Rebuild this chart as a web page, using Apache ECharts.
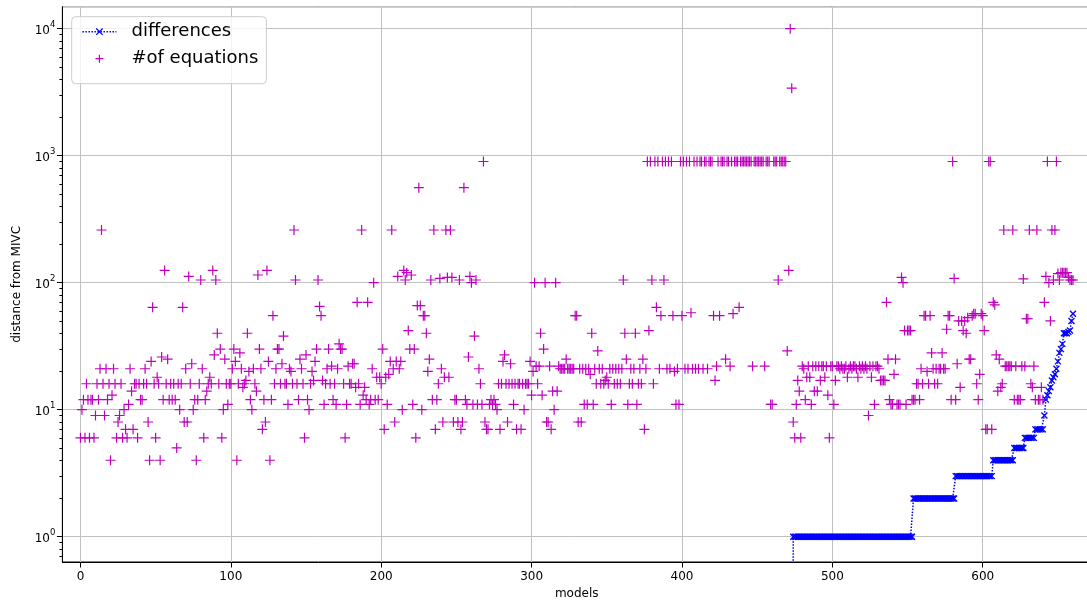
<!DOCTYPE html>
<html>
<head>
<meta charset="utf-8">
<title>distance from MIVC</title>
<script src="https://cdn.jsdelivr.net/npm/echarts@6/dist/echarts.min.js"></script>
<style>
  html, body { margin: 0; padding: 0; background: #ffffff; }
  #chart { width: 1087px; height: 603px; }
</style>
</head>
<body>
<div id="chart"></div>
<script>
// number of equations for every model, index = model number
const equations = [
  6, 10, 12, 6, 16, 12, 6, 12, 12, 6,
  9, 16, 12, 21, 260, 16, 9, 21, 12, 16,
  4, 13, 21, 16, 6, 8, 9, 16, 6, 10,
  7, 6, 11, 21, 14, 7, 16, 16, 6, 16,
  12, 12, 16, 21, 16, 8, 4, 24, 64, 16,
  6, 18, 16, 4, 26, 12, 125, 16, 25, 12,
  16, 12, 16, 12, 5, 16, 10, 16, 64, 8,
  21, 8, 112, 16, 23, 10, 12, 4, 12, 16,
  105, 21, 6, 12, 14, 16, 18, 16, 125, 27,
  105, 40, 16, 30, 6, 10, 25, 16, 11, 16,
  16, 21, 30, 24, 4, 16, 28, 21, 15, 16,
  17, 40, 20, 12, 10, 21, 16, 14, 115, 30,
  21, 7, 12, 8, 125, 24, 4, 12, 55, 16,
  21, 30, 30, 16, 23, 38, 16, 16, 11, 21,
  20, 16, 260, 105, 16, 12, 25, 21, 16, 6,
  27, 12, 10, 16, 20, 17, 24, 30, 105, 65,
  55, 17, 11, 16, 21, 30, 16, 22, 12, 16,
  11, 21, 33, 30, 30, 16, 6, 11, 22, 16,
  16, 23, 23, 15, 70, 16, 11, 260, 13, 15,
  12, 70, 11, 12, 21, 100, 12, 18, 12, 18,
  16, 30, 7, 18, 11, 19, 24, 260, 21, 8,
  24, 112, 21, 24, 10, 125, 105, 120, 42, 30,
  115, 11, 30, 6, 66, 560, 66, 10, 55, 55,
  40, 20, 25, 105, 12, 260, 7, 12, 16, 108,
  21, 8, 18, 260, 110, 18, 260, 110, 8, 12,
  12, 8, 105, 7, 8, 560, 12, 11, 26, 112,
  100, 11, 38, 105, 11, 21, 16, 11, 900, 8,
  7, 7, 11, 12, 11, 12, 11, 10, 16, 7,
  16, 24, 27, 16, 8, 16, 23, 16, 11, 16,
  7, 16, 16, 7, 16, 10, 16, 16, 16, 24,
  13, 20, 100, 22, 16, 22, 40, 13, 30, 100,
  8, 8, 22, 7, 14, 10, 100, 14, 22, 21,
  21, 21, 21, 25, 21, 21, 21, 21, 21, 55,
  55, 8, 21, 8, 21, 11, 21, 11, 21, 19,
  40, 11, 21, 16, 29, 21, 16, 21, 16, 17,
  18, 16, 21, 11, 21, 16, 21, 16, 21, 16,
  21, 105, 40, 25, 11, 16, 21, 16, 21, 40,
  11, 16, 21, 16, 25, 7, 21, 900, 42, 900,
  105, 16, 900, 64, 900, 21, 55, 900, 105, 900,
  21, 900, 21, 900, 55, 20, 11, 21, 11, 900,
  55, 900, 21, 900, 21, 900, 58, 21, 900, 21,
  900, 21, 900, 900, 21, 900, 900, 21, 900, 900,
  900, 55, 17, 22, 900, 55, 900, 900, 900, 25,
  900, 900, 22, 900, 57, 900, 900, 900, 64, 900,
  900, 900, 900, 900, 900, 900, 900, 22, 900, 900,
  900, 900, 900, 900, 900, 22, 900, 900, 900, 11,
  11, 900, 900, 900, 105, 900, 900, 900, 900, 900,
  29, 125, 10000, 3400, 8, 6, 11, 17, 14, 6,
  22, 21, 12, 18, 22, 18, 11, 22, 14, 22,
  14, 22, 17, 22, 22, 18, 22, 13, 6, 22,
  22, 11, 17, 22, 22, 21, 22, 21, 21, 22,
  18, 21, 22, 21, 22, 22, 21, 18, 22, 21,
  22, 21, 22, 21, 9, 22, 18, 22, 11, 22,
  22, 21, 17, 17, 17, 17, 70, 25, 12, 11,
  11, 19, 25, 11, 11, 11, 110, 100, 42, 11,
  42, 42, 42, 12, 12, 12, 16, 16, 12, 21,
  16, 55, 55, 20, 16, 55, 28, 21, 16, 21,
  16, 21, 21, 28, 21, 21, 43, 55, 55, 12,
  900, 108, 12, 23, 50, 15, 50, 42, 50, 40,
  53, 25, 25, 55, 57, 57, 16, 12, 19, 57,
  55, 42, 7, 7, 900, 900, 7, 70, 67, 27,
  14, 25, 15, 16, 260, 22, 22, 22, 22, 22,
  260, 12, 22, 12, 12, 12, 22, 107, 22, 52,
  52, 260, 16, 15, 22, 12, 260, 12, 12, 15,
  12, 70, 112, 900, 100, 50, 260, 105, 260, 900,
  118, 105, 120, 120, 120, 120, 120, 110, 105, 105,
  105
];

// differences, listed from model 473 onwards (all earlier models are 0)
const diffStart = 473;
const differences = [
  0,
  1, 1, 1, 1, 1, 1, 1, 1, 1, 1, 1, 1, 1, 1, 1, 1, 1, 1, 1, 1,
  1, 1, 1, 1, 1, 1, 1, 1, 1, 1, 1, 1, 1, 1, 1, 1, 1, 1, 1, 1,
  1, 1, 1, 1, 1, 1, 1, 1, 1, 1, 1, 1, 1, 1, 1, 1, 1, 1, 1, 1,
  1, 1, 1, 1, 1, 1, 1, 1, 1, 1, 1, 1, 1, 1, 1, 1, 1, 1, 1, 1,
  2, 2, 2, 2, 2, 2, 2, 2, 2, 2, 2, 2, 2, 2,
  2, 2, 2, 2, 2, 2, 2, 2, 2, 2, 2, 2, 2, 2,
  3, 3, 3, 3, 3, 3, 3, 3, 3, 3, 3, 3, 3,
  3, 3, 3, 3, 3, 3, 3, 3, 3, 3, 3, 3,
  4, 4, 4, 4, 4, 4, 4, 4, 4, 4, 4, 4, 4, 4,
  5, 5, 5, 5, 5, 5, 5,
  6, 6, 6, 6, 6, 6, 6,
  7, 7, 7, 7, 7, 7,
  9, 12, 13, 14, 15, 17, 18, 19, 21, 24,
  28, 30, 33, 40, 40, 40, 41, 42, 50, 57
];

const xTicks = [0, 100, 200, 300, 400, 500, 600];
const seriesNames = ['differences', '#of equations'];
const axisNames = { x: 'models', y: 'distance from MIVC' };

// axis window
const X_MIN = -12, X_MAX = 672;
const Y_MIN = 0.632, Y_MAX = 14898;
// a zero cannot sit on a log axis: push it far below so the step drops off the bottom edge
const LOG_FLOOR = 1e-6;

const FONT = 'DejaVu Sans';
const MAGENTA = '#bf00bf';
const BLUE = '#0000ff';

const PLUS = 'path://M0,5L10,5M5,0L5,10';
const CROSS = 'path://M0,0L10,10M10,0L0,10';

const equationsData = equations.map((v, i) => [i, v]);
const diffData = differences.map((v, i) => [diffStart + i, v > 0 ? v : LOG_FLOOR]);

// minor ticks of the log axis (2..9 times each power of ten), in log10 units
const minorTicks = [];
for (let d = -1; d <= 4; d++) {
  for (let k = 2; k <= 9; k++) {
    const e = d + Math.log10(k);
    if (e > Math.log10(Y_MIN) && e < Math.log10(Y_MAX)) minorTicks.push(e);
  }
}

const chart = echarts.init(document.getElementById('chart'), null, { renderer: 'canvas' });

chart.setOption({
  animation: false,
  backgroundColor: '#ffffff',
  textStyle: { fontFamily: FONT, color: '#000' },
  grid: {
    left: 62.4, top: 6.7, right: -4, bottom: 41,
    show: true, borderColor: '#000', borderWidth: 1, backgroundColor: 'transparent',
    containLabel: false, outerBoundsMode: 'none'
  },
  legend: {
    data: seriesNames,
    orient: 'vertical',
    left: 71.7, top: 16.7,
    padding: [4, 8, 14, 10],
    itemWidth: 34, itemHeight: 8, itemGap: 5,
    backgroundColor: 'rgba(255,255,255,0.8)',
    borderColor: '#cccccc', borderWidth: 1, borderRadius: 4,
    textStyle: { fontSize: 18, fontFamily: FONT, color: '#000', lineHeight: 22, padding: [0, 0, 0, 10] },
    itemStyle: { borderWidth: 1.2 },
    lineStyle: { width: 1.5 },
    selectedMode: false
  },
  xAxis: {
    type: 'value',
    min: X_MIN, max: X_MAX,
    name: axisNames.x, nameLocation: 'middle', nameGap: 26,
    nameTextStyle: { fontSize: 12, fontFamily: FONT, color: '#000' },
    axisLine: { show: true, onZero: false, lineStyle: { color: '#000', width: 1 } },
    axisTick: { show: true, length: 5.5, customValues: xTicks, lineStyle: { color: '#000', width: 1 } },
    axisLabel: { customValues: xTicks, fontSize: 12, fontFamily: FONT, color: '#000', margin: 9 },
    splitLine: { show: true, lineStyle: { color: '#c0c0c0', width: 1 } }
  },
  yAxis: [
    {
      type: 'log', logBase: 10,
      min: Y_MIN, max: Y_MAX,
      position: 'left',
      name: axisNames.y, nameLocation: 'middle', nameGap: 40,
      nameTextStyle: { fontSize: 12, fontFamily: FONT, color: '#000' },
      axisLine: { show: true, onZero: false, lineStyle: { color: '#000', width: 1 } },
      axisTick: { show: true, length: 5.5, lineStyle: { color: '#000', width: 1 } },
      axisLabel: {
        margin: 7,
        showMinLabel: false, showMaxLabel: false,
        formatter: function (v) {
          const e = Math.log10(v);
          const r = Math.round(e);
          if (Math.abs(e - r) > 1e-6) return '';
          return '{b|10}{s|' + r + '}';
        },
        rich: {
          b: { fontSize: 12, fontFamily: FONT, color: '#000', lineHeight: 16, verticalAlign: 'bottom' },
          s: { fontSize: 8.5, fontFamily: FONT, color: '#000', lineHeight: 9, verticalAlign: 'top' }
        }
      },
      splitLine: { show: true, lineStyle: { color: '#c0c0c0', width: 1 } }
    },
    {
      // carries only the minor tick marks
      type: 'value',
      min: Math.log10(Y_MIN), max: Math.log10(Y_MAX),
      position: 'left',
      axisLine: { show: false, onZero: false },
      axisLabel: { show: false },
      splitLine: { show: false },
      axisTick: { show: true, length: 3, customValues: minorTicks, lineStyle: { color: '#000', width: 1 } }
    }
  ],
  series: [
    {
      name: seriesNames[0],
      type: 'line',
      data: diffData,
      yAxisIndex: 0,
      symbol: CROSS,
      symbolSize: 6,
      showAllSymbol: true,
      clip: true,
      lineStyle: { color: BLUE, width: 1.5, type: 'dotted' },
      itemStyle: { color: BLUE, borderColor: BLUE, borderWidth: 1.3 },
      emphasis: { disabled: true },
      silent: true
    },
    {
      name: seriesNames[1],
      type: 'scatter',
      data: equationsData,
      yAxisIndex: 0,
      symbol: PLUS,
      symbolSize: 10,
      itemStyle: { color: 'none', borderColor: MAGENTA, borderWidth: 1.2, opacity: 1 },
      emphasis: { disabled: true },
      silent: true
    }
  ]
});
</script>
</body>
</html>
